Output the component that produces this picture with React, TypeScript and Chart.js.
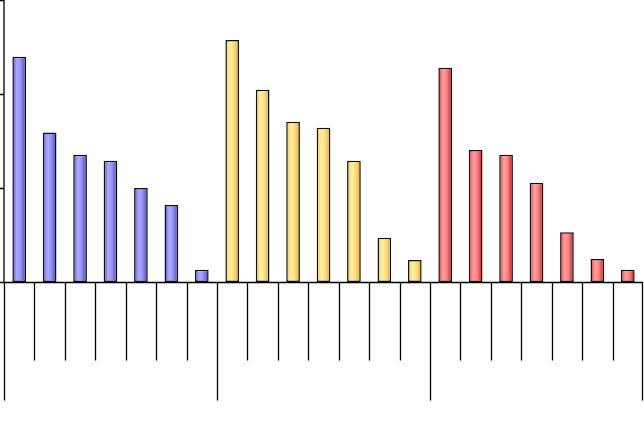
import React, { useEffect, useRef } from "react";
import { Chart, registerables } from "chart.js";

Chart.register(...registerables);

const categories = [
  "A1", "A2", "A3", "A4", "A5", "A6", "A7",
  "B1", "B2", "B3", "B4", "B5", "B6", "B7",
  "C1", "C2", "C3", "C4", "C5", "C6", "C7",
];
const groupSize = 7;
const values = [
  23.95, 15.9, 13.55, 12.9, 10.0, 8.2, 1.3,
  25.75, 20.45, 17.05, 16.4, 12.9, 4.7, 2.35,
  22.8, 14.05, 13.55, 10.55, 5.3, 2.45, 1.3,
];
const yTicks = [0, 10, 20, 30];

const groupGradients = [
  ["#3a3aa0", "#7c7ce8", "#acacff", "#9494f4", "#6464d0", "#34349a"],
  ["#d8a028", "#ffd870", "#fff0a8", "#ffe080", "#f0c048", "#c89018"],
  ["#b82020", "#f06868", "#ffa0a0", "#ff8484", "#e04040", "#b01818"],
];

export default function App() {
  const ref = useRef<HTMLCanvasElement | null>(null);

  useEffect(() => {
    document.body.style.margin = "0";
    const canvas = ref.current!;
    const separators = {
      id: "separators",
      afterDatasetsDraw(chart: any) {
        const { ctx, chartArea } = chart;
        const x = chart.scales.x;
        const y = chart.scales.y;
        const n = categories.length;
        const w = (chartArea.right - chartArea.left) / n;
        ctx.save();
        ctx.strokeStyle = "#000";
        ctx.lineWidth = 1.3;
        ctx.beginPath();
        ctx.moveTo(chartArea.left, chartArea.top);
        ctx.lineTo(chartArea.left, chartArea.bottom);
        yTicks.forEach((t) => {
          const py = Math.round(y.getPixelForValue(t)) + 0.5;
          ctx.moveTo(0, py);
          ctx.lineTo(chartArea.left, py);
        });
        const by = Math.round(y.getPixelForValue(0)) + 0.5;
        ctx.moveTo(0, by);
        ctx.lineTo(chartArea.right, by);
        for (let i = 0; i <= n; i++) {
          const px =
            i < n
              ? Math.round(x.getPixelForValue(i) - w / 2) + 0.5
              : Math.round(x.getPixelForValue(n - 1) + w / 2) - 0.5;
          const isGroup = i % groupSize === 0;
          ctx.moveTo(px, by);
          ctx.lineTo(px, by + (isGroup ? 118 : 78));
        }
        ctx.stroke();
        ctx.restore();
      },
    };

    const chart = new Chart(canvas, {
      type: "bar",
      data: {
        labels: categories,
        datasets: [
          {
            data: values,
            backgroundColor: (c: any) => {
              const ch = c.chart;
              const i = c.dataIndex ?? 0;
              const g = Math.floor(i / groupSize);
              const stops = groupGradients[g] || groupGradients[0];
              const xs = ch.scales && ch.scales.x;
              if (!ch.chartArea || !xs) return stops[2];
              const w = (ch.chartArea.right - ch.chartArea.left) / categories.length;
              const half = (w * 0.45) / 2;
              const cx = xs.getPixelForValue(i);
              const grad = ch.ctx.createLinearGradient(cx - half, 0, cx + half, 0);
              grad.addColorStop(0, stops[0]);
              grad.addColorStop(0.15, stops[1]);
              grad.addColorStop(0.35, stops[2]);
              grad.addColorStop(0.6, stops[3]);
              grad.addColorStop(0.85, stops[4]);
              grad.addColorStop(1, stops[5]);
              return grad;
            },
            borderColor: "#111",
            borderWidth: 1.5,
            borderSkipped: false,
            barPercentage: 0.45,
            categoryPercentage: 1,
          },
        ],
      },
      options: {
        responsive: false,
        animation: false,
        events: [],
        layout: { padding: { left: 4, right: 1, top: 0, bottom: 148 } },
        plugins: {
          legend: { display: false },
          tooltip: { enabled: false },
        },
        scales: {
          x: { display: false },
          y: { display: false, min: 0, max: 30, ticks: { stepSize: 10 } },
        },
      },
      plugins: [separators],
    });
    return () => chart.destroy();
  }, []);

  return (
    <div style={{ width: 644, height: 430 }}>
      <canvas ref={ref} width={644} height={430} style={{ display: "block" }} />
    </div>
  );
}
